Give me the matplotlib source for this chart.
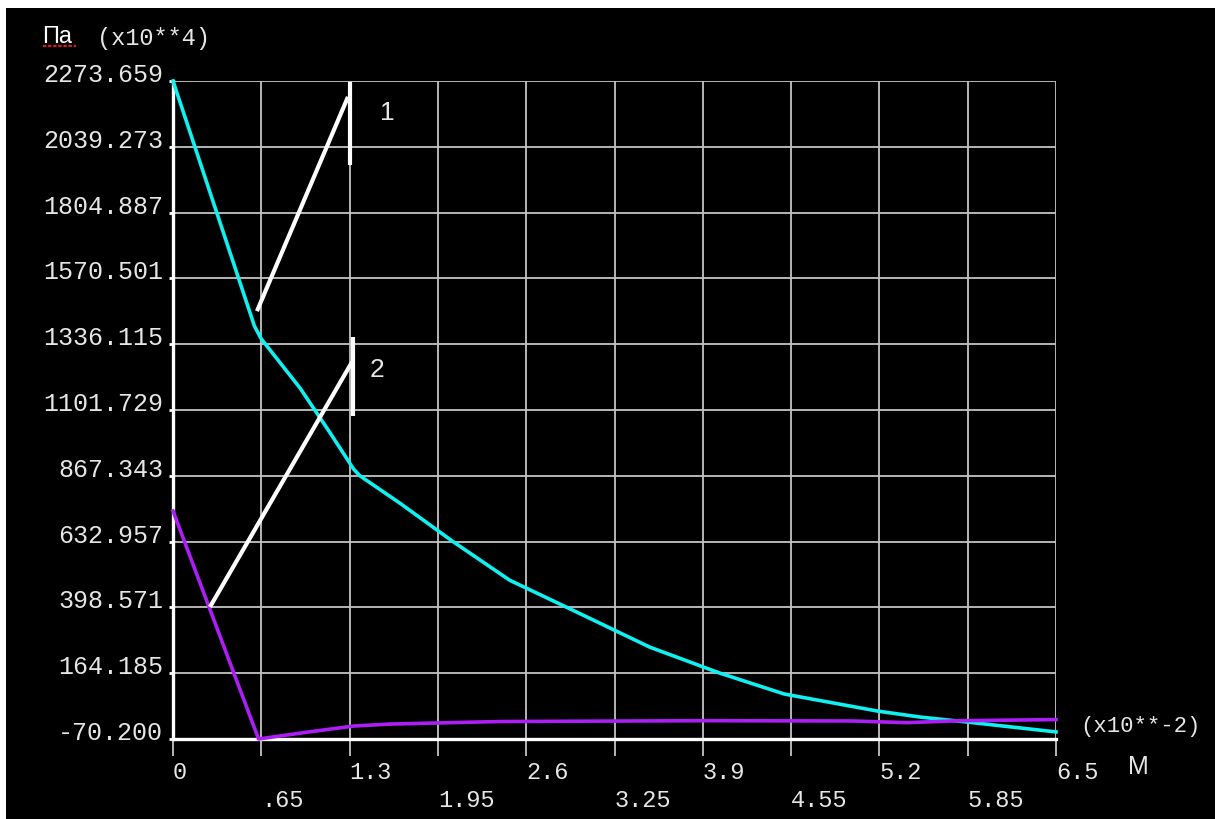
import numpy as np
import matplotlib.pyplot as plt
from matplotlib.patches import Rectangle

# path coordinate, x10^-2 m
x_ticks = [0, .65, 1.3, 1.95, 2.6, 3.25, 3.9, 4.55, 5.2, 5.85, 6.5]
x_labels = ["0", ".65", "1.3", "1.95", "2.6", "3.25", "3.9", "4.55", "5.2", "5.85", "6.5"]

# stress, x10^4 Pa
y_ticks = [-70.200, 164.185, 398.571, 632.957, 867.343, 1101.729,
           1336.115, 1570.501, 1804.887, 2039.273, 2273.659]
y_labels = ["-70.200", "164.185", "398.571", "632.957", "867.343", "1101.729",
            "1336.115", "1570.501", "1804.887", "2039.273", "2273.659"]

# curve 1 (cyan)
x1 = [0, 0.60, 0.65, 0.935, 1.15, 1.33, 1.376, 1.67, 2.061, 2.48, 2.90, 3.51, 4.027, 4.5, 5.19, 5.5, 5.85, 6.5]
y1 = [2273.659, 1400, 1355, 1180, 1025, 891, 867.3, 770, 633, 495, 398.6, 257, 164.2, 90, 29, 8, -10, -45]

# curve 2 (magenta)
x2 = [0, 0.63, 1.0, 1.33, 1.6, 2.4, 3.9, 5.0, 5.4, 5.8, 6.5]
y2 = [742, -70.2, -45, -24, -17, -8, -5, -6, -12, -5, -1]

mono = "Liberation Mono"
sans = "Liberation Sans"
fg = "#e6e6e6"

fig = plt.figure(figsize=(12.15, 8.2), dpi=100)
fig.patch.set_facecolor("white")
fig.patches.append(Rectangle((6 / 1215, 0), 1, 1 - 9 / 820, transform=fig.transFigure,
                             facecolor="black", edgecolor="none", zorder=-1))

ax = fig.add_axes([173 / 1215, 1 - 740 / 820, (1056 - 173) / 1215, (740 - 82) / 820])
ax.set_facecolor("black")
ax.set_xlim(0, 6.5)
ax.set_ylim(y_ticks[0], y_ticks[-1])

# grid
for xv in x_ticks[1:]:
    ax.axvline(xv, color="#c4c4c4", lw=1.3, zorder=1)
for yv in y_ticks[1:]:
    ax.axhline(yv, color="#c4c4c4", lw=1.3, zorder=1)

for s in ["top", "right"]:
    ax.spines[s].set_visible(False)
for s in ["left", "bottom"]:
    ax.spines[s].set_color("white")
    ax.spines[s].set_linewidth(2.4)

ax.plot(x1, y1, color="#10f0f0", lw=2.6, zorder=3, clip_on=False)
ax.plot(x2, y2, color="#ac1ef5", lw=2.6, zorder=3, clip_on=False)

# leader lines for curve numbers
ax.plot([0.618, 1.288], [1454, 2217], color="white", lw=3, zorder=4, solid_capstyle="butt")
ax.plot([1.303, 1.303], [2270, 1974], color="white", lw=3, zorder=4, solid_capstyle="butt")
ax.text(1.575, 2163, "1", color=fg, fontsize=19, family=sans, ha="center", va="center")
ax.plot([0.272, 1.318], [400, 1273], color="white", lw=3, zorder=4, solid_capstyle="butt")
ax.plot([1.325, 1.325], [1362, 1080], color="white", lw=3, zorder=4, solid_capstyle="butt")
ax.text(1.502, 1248, "2", color=fg, fontsize=19, family=sans, ha="center", va="center")

ax.set_xticks(x_ticks)
ax.set_xticklabels([l if i % 2 == 0 else "\n" + l for i, l in enumerate(x_labels)],
                   family=mono, fontsize=17, color=fg, ha="left", linespacing=1.3)
ax.tick_params(axis="x", direction="out", length=12, width=1.3, color="#c4c4c4", pad=3)

ax.set_yticks(y_ticks)
ax.set_yticklabels(y_labels, family=mono, fontsize=18, color=fg, va="baseline")
ax.tick_params(axis="y", direction="out", length=3, width=2, color="white", pad=4)

fig.text(42 / 1215, 1 - 37 / 820, "Па", family=sans, fontsize=17, color="white", va="center")
fig.lines.append(plt.Line2D([43 / 1215, 76 / 1215], [1 - 47 / 820] * 2, transform=fig.transFigure,
                            color="#d02020", lw=1.6, ls=(0, (1.5, 0.8))))
fig.text(97 / 1215, 1 - 38 / 820, "(x10**4)", family=mono, fontsize=17, color=fg, va="center")
fig.text(1080 / 1215, 1 - 727 / 820, "(x10**-2)", family=mono, fontsize=16, color=fg, va="center")
fig.text(1128 / 1215, 1 - 767 / 820, "М", family=sans, fontsize=18, color=fg, va="center")

fig.savefig("out.png", dpi=100, facecolor=fig.get_facecolor())
